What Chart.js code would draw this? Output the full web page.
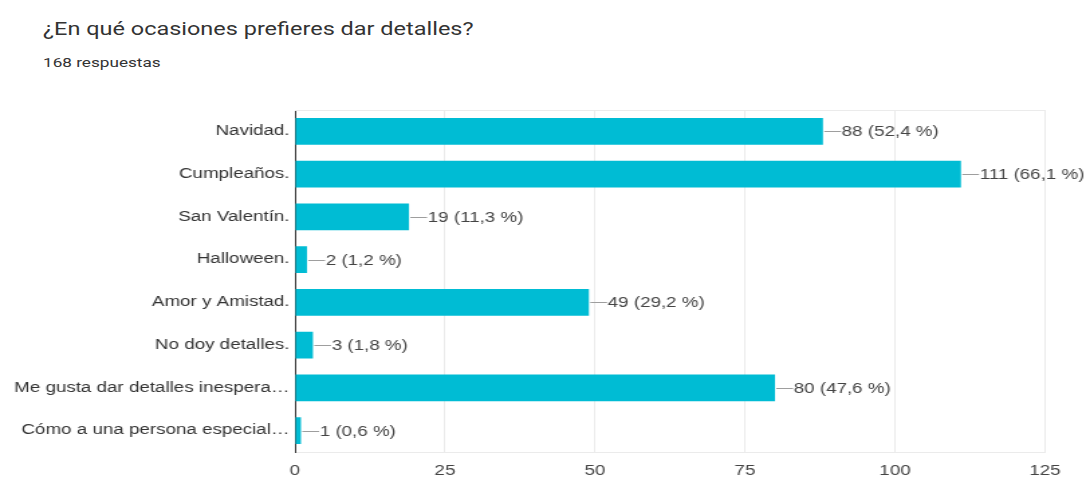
<!DOCTYPE html>
<html>
<head>
<meta charset="utf-8">
<script src="https://cdn.jsdelivr.net/npm/chart.js@4.4.1/dist/chart.umd.min.js"></script>
<style>
  html, body { margin: 0; padding: 0; background: #fff; }
  #wrap { position: relative; width: 1090px; height: 487px; overflow: hidden; }
  /* the whole card is drawn at a 1.34 horizontal stretch */
  .hx { position: absolute; left: 43px; white-space: nowrap; transform: scaleX(1.3407); transform-origin: 0 0; font-family: Roboto, Arial, sans-serif; color: #202124; }
  #title { top: 19px; font-size: 17.5px; color: #333; }
  #subtitle { top: 55px; font-size: 12.8px; color: #333; }
  #c { position: absolute; left: 0; top: 0; width: 1090px !important; height: 487px !important; }
</style>
</head>
<body>
<div id="wrap">
  <div id="title" class="hx">¿En qué ocasiones prefieres dar detalles?</div>
  <div id="subtitle" class="hx">168 respuestas</div>
  <canvas id="c" width="813" height="487"></canvas>
</div>
<script>
const categories = [
  'Navidad.',
  'Cumpleaños.',
  'San Valentín.',
  'Halloween.',
  'Amor y Amistad.',
  'No doy detalles.',
  'Me gusta dar detalles inespera…',
  'Cómo a una persona especial…'
];
const counts = [88, 111, 19, 2, 49, 3, 80, 1];
const percents = ['52,4', '66,1', '11,3', '1,2', '29,2', '1,8', '47,6', '0,6'];
const xTicks = [0, 25, 50, 75, 100, 125];

const labelFont = '"Liberation Sans", Arial, sans-serif';

// Leader line + "n (p %)" label at the end of each bar, plus the top frame line
const valueLabels = {
  id: 'valueLabels',
  afterDatasetsDraw(chart) {
    const ctx = chart.ctx;
    const meta = chart.getDatasetMeta(0);
    const area = chart.chartArea;
    ctx.save();
    ctx.strokeStyle = '#ebebeb';
    ctx.lineWidth = 1;
    ctx.beginPath();
    ctx.moveTo(area.left, area.top + 0.5);
    ctx.lineTo(area.right, area.top + 0.5);
    ctx.stroke();
    ctx.font = '14px ' + labelFont;
    ctx.fillStyle = '#444';
    ctx.textBaseline = 'middle';
    meta.data.forEach((bar, i) => {
      const x = bar.x;
      const y = Math.round(bar.y) + 0.5;
      ctx.strokeStyle = '#9e9e9e';
      ctx.beginPath();
      ctx.moveTo(x + 1, y);
      ctx.lineTo(x + 13.5, y);
      ctx.stroke();
      ctx.fillText(counts[i] + ' (' + percents[i] + ' %)', x + 14, y + 0.5);
    });
    ctx.restore();
  }
};

new Chart(document.getElementById('c'), {
  type: 'bar',
  data: {
    labels: categories,
    datasets: [{
      data: counts,
      backgroundColor: '#00bcd4',
      borderWidth: 0,
      barPercentage: 0.63,
      categoryPercentage: 1
    }]
  },
  options: {
    indexAxis: 'y',
    responsive: false,
    animation: false,
    devicePixelRatio: 1,
    layout: { padding: { left: 0, right: 33.6, top: 110, bottom: 0 } },
    plugins: { legend: { display: false }, tooltip: { enabled: false } },
    scales: {
      x: {
        min: 0,
        max: 125,
        afterBuildTicks(scale) { scale.ticks = xTicks.map(v => ({ value: v })); },
        afterFit(scale) { scale.height = 35; },
        grid: {
          color: ctx => ctx.tick && ctx.tick.value === 0 ? 'rgba(0,0,0,0)' : '#ebebeb',
          drawTicks: false
        },
        border: { display: true, color: '#ebebeb' },
        ticks: {
          padding: 11,
          color: '#444',
          font: { family: labelFont, size: 14 }
        }
      },
      y: {
        afterFit(scale) { scale.width = 220; },
        grid: { display: false, drawTicks: false },
        border: { display: true, color: '#333', width: 1 },
        ticks: {
          padding: 4,
          color: '#333',
          font: { family: labelFont, size: 14 }
        }
      }
    }
  },
  plugins: [valueLabels]
});
</script>
</body>
</html>
